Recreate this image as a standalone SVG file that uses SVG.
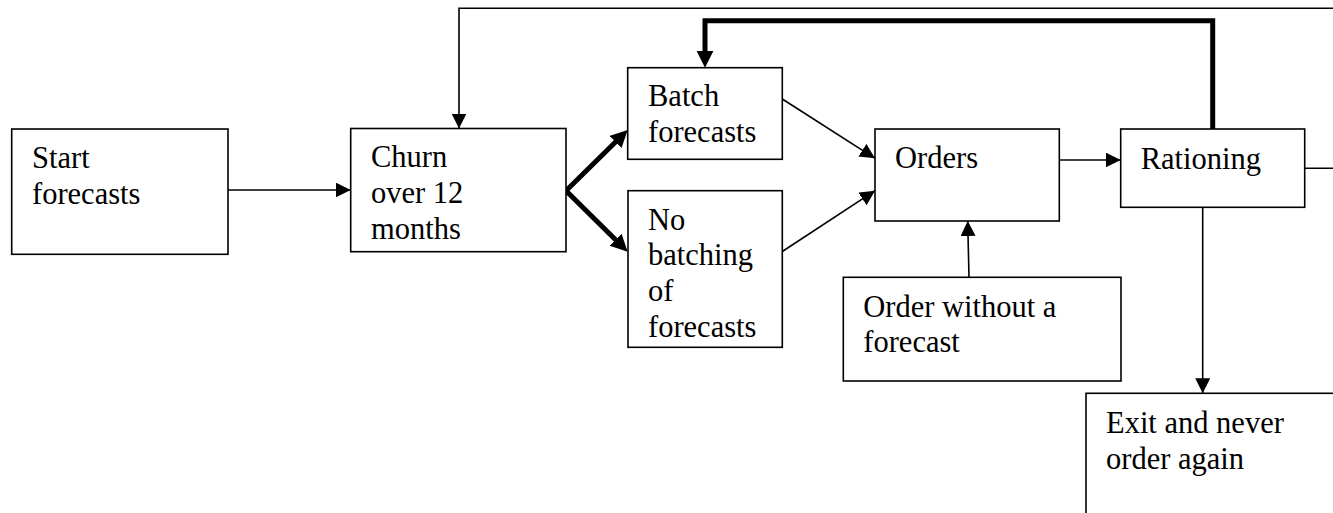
<svg xmlns="http://www.w3.org/2000/svg" width="1333" height="513" viewBox="0 0 1333 513">
<style>
  .box { fill: #fff; stroke: #000; stroke-width: 1.6; }
  .lbl { font-family: "Liberation Serif", "Times New Roman", serif; font-size: 30.5px; fill: #000; }
  .thin { fill: none; stroke: #000; stroke-width: 1.6; }
  .thick { fill: none; stroke: #000; stroke-width: 5; stroke-linejoin: miter; }
</style>
<defs>
  <marker id="ah" markerUnits="userSpaceOnUse" markerWidth="16" markerHeight="16" refX="15" refY="7.5" orient="auto">
    <path d="M0,0 L15,7.5 L0,15 z" fill="#000"/>
  </marker>
  <marker id="ahb" markerUnits="userSpaceOnUse" markerWidth="18" markerHeight="18" refX="11" refY="8.5" orient="auto">
    <path d="M0,0 L17,8.5 L0,17 z" fill="#000"/>
  </marker>
</defs>

<g id="connectors">
  <path class="thin" d="M228,190 H350.7" marker-end="url(#ah)"/>
  <path class="thin" d="M1340,8.3 H459 V128.5" marker-end="url(#ah)"/>
  <path class="thin" d="M1304.7,168.3 H1340"/>
  <path class="thick" d="M1212.7,129 V20.7 H705 V61.7" marker-end="url(#ahb)"/>
  <path class="thick" d="M566,190.7 L623.4,134.2" marker-end="url(#ahb)"/>
  <path class="thick" d="M566,190.7 L623.4,247.5" marker-end="url(#ahb)"/>
  <path class="thin" d="M782.3,99 L875,158.3" marker-end="url(#ah)"/>
  <path class="thin" d="M782.3,251.5 L875,190.7" marker-end="url(#ah)"/>
  <path class="thin" d="M969,277.3 L967.7,221" marker-end="url(#ah)"/>
  <path class="thin" d="M1059.3,160 H1120.7" marker-end="url(#ah)"/>
  <path class="thin" d="M1202.7,207.3 V393.3" marker-end="url(#ah)"/>
</g>

<g id="start">
  <rect class="box" x="11.7" y="129" width="216.3" height="125.3"/>
  <text class="lbl" x="32" y="168.3">Start</text>
  <text class="lbl" x="32" y="204">forecasts</text>
</g>
<g id="churn">
  <rect class="box" x="350.7" y="128.5" width="215.3" height="123.2"/>
  <text class="lbl" x="371" y="167">Churn</text>
  <text class="lbl" x="371" y="203">over 12</text>
  <text class="lbl" x="371" y="239">months</text>
</g>
<g id="batch">
  <rect class="box" x="627.7" y="67.7" width="154.6" height="91.6"/>
  <text class="lbl" x="648" y="106">Batch</text>
  <text class="lbl" x="648" y="141.7">forecasts</text>
</g>
<g id="nobatch">
  <rect class="box" x="628" y="190.7" width="154.3" height="156.6"/>
  <text class="lbl" x="648" y="229.5">No</text>
  <text class="lbl" x="648" y="265">batching</text>
  <text class="lbl" x="648" y="300.5">of</text>
  <text class="lbl" x="648" y="336.5">forecasts</text>
</g>
<g id="orders">
  <rect class="box" x="875" y="129" width="184.3" height="92"/>
  <text class="lbl" x="895" y="168.3">Orders</text>
</g>
<g id="rationing">
  <rect class="box" x="1120.7" y="129" width="184" height="78.3"/>
  <text class="lbl" x="1140.7" y="168.8">Rationing</text>
</g>
<g id="nofc">
  <rect class="box" x="843.3" y="277.3" width="277.7" height="103.7"/>
  <text class="lbl" x="863.3" y="316.7">Order without a</text>
  <text class="lbl" x="863.3" y="351.7">forecast</text>
</g>
<g id="exit">
  <rect class="box" x="1086" y="393.3" width="260" height="130"/>
  <text class="lbl" x="1106" y="433.3">Exit and never</text>
  <text class="lbl" x="1106" y="469.3">order again</text>
</g>
</svg>
